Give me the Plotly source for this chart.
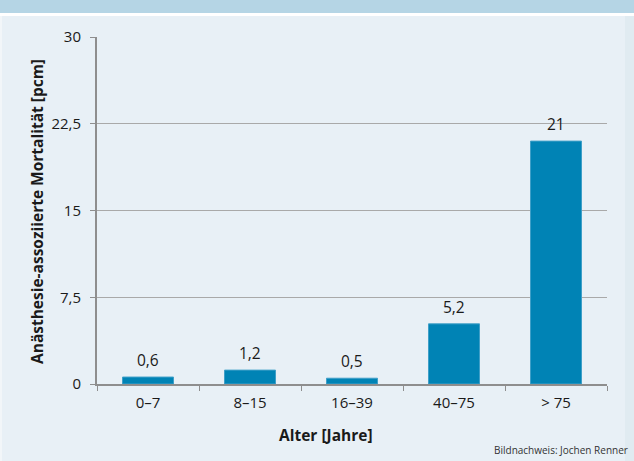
import plotly.graph_objects as go

categories = ["0–7", "8–15", "16–39", "40–75", "> 75"]
values = [0.6, 1.2, 0.5, 5.2, 21]
value_labels = ["0,6", "1,2", "0,5", "5,2", "21"]
y_tickvals = [0, 7.5, 15, 22.5, 30]
y_ticktext = ["0", "7,5", "15", "22,5", "30"]

W, H = 634, 461
L, R, T, B = 97, 27, 37, 77
pw, ph = W - L - R, H - T - B

def px(x):
    return (x - L) / pw

def py(y):
    return (H - B - y) / ph

FONT = "Open Sans"
TXT = "#1a1a1a"
fig = go.Figure()
fig.add_trace(go.Bar(x=categories, y=values,
                     marker=dict(color="#0083b5", line=dict(width=1, color="#3f9fc8")),
                     width=0.5, hoverinfo="skip"))

for c, v, t in zip(categories, values, value_labels):
    fig.add_annotation(x=c, y=v, text=t, showarrow=False, yanchor="bottom", yshift=4,
                       font=dict(family=FONT, size=15.5, color=TXT))

shapes = [
    dict(type="rect", xref="paper", yref="paper", x0=px(0), x1=px(W), y0=py(16), y1=py(0),
         fillcolor="white", line=dict(width=0), layer="below"),
    dict(type="rect", xref="paper", yref="paper", x0=px(0), x1=px(W), y0=py(13), y1=py(0),
         fillcolor="#b5d5e5", line=dict(width=0), layer="below"),
    dict(type="rect", xref="paper", yref="paper", x0=px(0), x1=px(2), y0=py(H), y1=py(16),
         fillcolor="#f2f6f9", line=dict(width=0), layer="below"),
    dict(type="rect", xref="paper", yref="paper", x0=px(625), x1=px(W), y0=py(H), y1=py(16),
         fillcolor="#e0ebf1", line=dict(width=0), layer="below"),
]
fig.update_layout(
    width=W, height=H,
    margin=dict(l=L, r=R, t=T, b=B, pad=0),
    paper_bgcolor="#e8f0f6",
    plot_bgcolor="rgba(0,0,0,0)",
    showlegend=False,
    shapes=shapes,
    font=dict(family=FONT, size=15, color=TXT),
    xaxis=dict(
        showline=True, linecolor="#8e8e8e", linewidth=2,
        ticks="outside", tickson="boundaries", ticklen=5, tickcolor="#8e8e8e", tickwidth=1,
        ticklabelstandoff=4,
        showgrid=False, tickfont=dict(family=FONT, size=15, color=TXT),
    ),
    yaxis=dict(
        range=[0, 30], tickvals=y_tickvals, ticktext=y_ticktext,
        showline=True, linecolor="#8e8e8e", linewidth=2,
        ticks="outside", ticklen=5, tickcolor="#8e8e8e", tickwidth=1,
        ticklabelstandoff=6,
        showgrid=True, gridcolor="#a9a9a9", gridwidth=1, zeroline=False,
        tickfont=dict(family=FONT, size=15, color=TXT),
    ),
)
fig.add_annotation(xref="paper", yref="paper", x=px(326), y=py(435), xanchor="center", yanchor="middle",
                   text="<b>Alter [Jahre]</b>", showarrow=False,
                   font=dict(family=FONT, size=15.5, color=TXT))
fig.add_annotation(xref="paper", yref="paper", x=px(37), y=py(212), xanchor="center", yanchor="middle",
                   text="<b>Anästhesie-assoziierte Mortalität [pcm]</b>", showarrow=False, textangle=-90,
                   font=dict(family=FONT, size=15.5, color=TXT))
fig.add_annotation(xref="paper", yref="paper", x=px(630), y=py(450), xanchor="right", yanchor="middle",
                   text="Bildnachweis: Jochen Renner", showarrow=False,
                   font=dict(family=FONT, size=10, color="#333333"))
fig.write_html("out.html")
